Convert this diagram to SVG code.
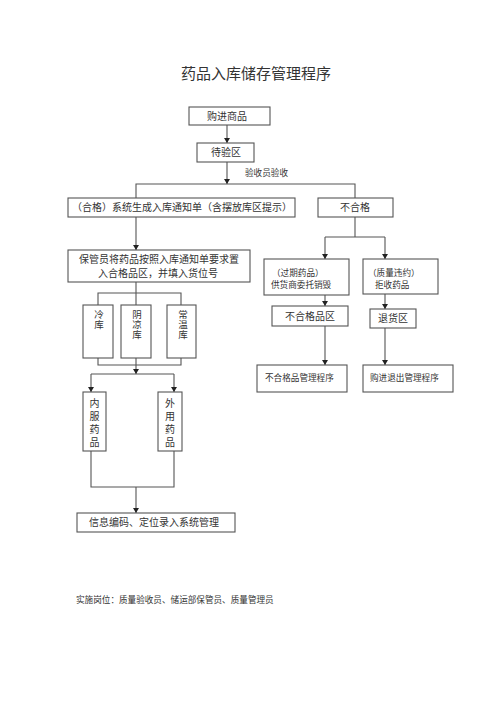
<svg xmlns="http://www.w3.org/2000/svg" width="500" height="707" viewBox="0 0 500 707">
<defs>
<style>
text{font-family:"Liberation Serif","Noto Sans CJK SC",serif;fill:#333;}
.box{fill:#fff;stroke:#555;stroke-width:1.1;}
.ln{fill:none;stroke:#555;stroke-width:1.1;}
.t10{font-size:10px;}
.t9{font-size:9.5px;}
.t85{font-size:8.6px;}
.c{text-anchor:middle;}
</style>
<marker id="ah" markerWidth="6" markerHeight="6" refX="5" refY="3" orient="auto" markerUnits="userSpaceOnUse">
<path d="M0,0 L5,3 L0,6 Z" fill="#222"/>
</marker>
</defs>
<rect width="500" height="707" fill="#fff"/>
<text x="256" y="79" class="c" style="font-size:15px">药品入库储存管理程序</text>

<g id="connectors">
<line class="ln" x1="227" y1="125" x2="227" y2="143" marker-end="url(#ah)"/>
<line class="ln" x1="227" y1="162" x2="227" y2="184" marker-end="url(#ah)"/>
<polyline class="ln" points="136,198 136,184 355,184 355,198"/>
<line class="ln" x1="136" y1="217" x2="136" y2="250" marker-end="url(#ah)"/>
<polyline class="ln" points="355,217 355,237"/>
<line class="ln" x1="325" y1="237" x2="385" y2="237"/>
<line class="ln" x1="325" y1="237" x2="325" y2="259" marker-end="url(#ah)"/>
<line class="ln" x1="385" y1="237" x2="385" y2="259" marker-end="url(#ah)"/>
<line class="ln" x1="325" y1="295" x2="325" y2="306" marker-end="url(#ah)"/>
<line class="ln" x1="385" y1="294" x2="385" y2="309" marker-end="url(#ah)"/>
<line class="ln" x1="325" y1="326" x2="325" y2="365" marker-end="url(#ah)"/>
<line class="ln" x1="385" y1="328" x2="385" y2="365" marker-end="url(#ah)"/>
<line class="ln" x1="136" y1="282" x2="136" y2="305"/>
<polyline class="ln" points="98,305 98,293 181,293 181,305"/>
<polyline class="ln" points="98,358 98,365 181,365 181,358"/>
<line class="ln" x1="136" y1="358" x2="136" y2="374" marker-end="url(#ah)"/>
<line class="ln" x1="91" y1="374" x2="174" y2="374"/>
<line class="ln" x1="91" y1="374" x2="91" y2="392" marker-end="url(#ah)"/>
<line class="ln" x1="174" y1="374" x2="174" y2="392" marker-end="url(#ah)"/>
<polyline class="ln" points="91,451 91,487 174,487 174,451"/>
<line class="ln" x1="136" y1="487" x2="136" y2="513" marker-end="url(#ah)"/>
</g>

<g id="n-purchase"><rect class="box" x="189" y="107" width="81" height="18"/><text x="227" y="120" class="c t10">购进商品</text></g>
<g id="n-pending"><rect class="box" x="197" y="143" width="57" height="19"/><text x="226" y="156" class="c t10">待验区</text></g>
<text x="245" y="176" class="t85">验收员验收</text>
<g id="n-pass"><rect class="box" x="68" y="198" width="227" height="19"/><text x="182" y="211" class="c t10">（合格）系统生成入库通知单（含摆放库区提示）</text></g>
<g id="n-fail"><rect class="box" x="318" y="198" width="75" height="19"/><text x="355" y="211" class="c t10">不合格</text></g>
<g id="n-expired"><rect class="box" x="264" y="259" width="85" height="36"/><text x="272" y="276" class="t85">（过期药品）</text><text x="271" y="288" class="t85">供货商委托销毁</text></g>
<g id="n-violation"><rect class="box" x="363" y="259" width="75" height="35"/><text x="368" y="276" class="t85">（质量违约）</text><text x="375" y="288" class="t85">拒收药品</text></g>
<g id="n-failzone"><rect class="box" x="272" y="306" width="76" height="20"/><text x="310" y="320" class="c t10">不合格品区</text></g>
<g id="n-return"><rect class="box" x="370" y="309" width="46" height="19"/><text x="393" y="322" class="c t10">退货区</text></g>
<g id="n-failproc"><rect class="box" x="257" y="365" width="90" height="27"/><text x="265" y="381" class="t85">不合格品管理程序</text></g>
<g id="n-returnproc"><rect class="box" x="363" y="365" width="90" height="27"/><text x="370" y="381" class="t85">购进退出管理程序</text></g>
<g id="n-keeper"><rect class="box" x="68" y="250" width="182" height="32"/><text x="159" y="263" class="c t10">保管员将药品按照入库通知单要求置</text><text x="158" y="277" class="c t10">入合格品区，并填入货位号</text></g>
<g id="n-cold"><rect class="box" x="83" y="305" width="30" height="53"/><text x="99" y="318" class="c t9">冷</text><text x="99" y="328" class="c t9">库</text></g>
<g id="n-cool"><rect class="box" x="121" y="305" width="30" height="53"/><text x="137" y="318" class="c t9">阴</text><text x="137" y="328" class="c t9">凉</text><text x="137" y="338" class="c t9">库</text></g>
<g id="n-normal"><rect class="box" x="167" y="305" width="29" height="53"/><text x="183" y="318" class="c t9">常</text><text x="183" y="328" class="c t9">温</text><text x="183" y="338" class="c t9">库</text></g>
<g id="n-internal"><rect class="box" x="83" y="392" width="23" height="59"/><text x="94.5" y="407" class="c t10">内</text><text x="94.5" y="420" class="c t10">服</text><text x="94.5" y="433" class="c t10">药</text><text x="94.5" y="446" class="c t10">品</text></g>
<g id="n-external"><rect class="box" x="158" y="392" width="24" height="59"/><text x="170" y="407" class="c t10">外</text><text x="170" y="420" class="c t10">用</text><text x="170" y="433" class="c t10">药</text><text x="170" y="446" class="c t10">品</text></g>
<g id="n-info"><rect class="box" x="77" y="513" width="158" height="19"/><text x="154" y="526" class="c t10">信息编码、定位录入系统管理</text></g>
<text x="76" y="603" class="t85">实施岗位：质量验收员、储运部保管员、质量管理员</text>
</svg>
